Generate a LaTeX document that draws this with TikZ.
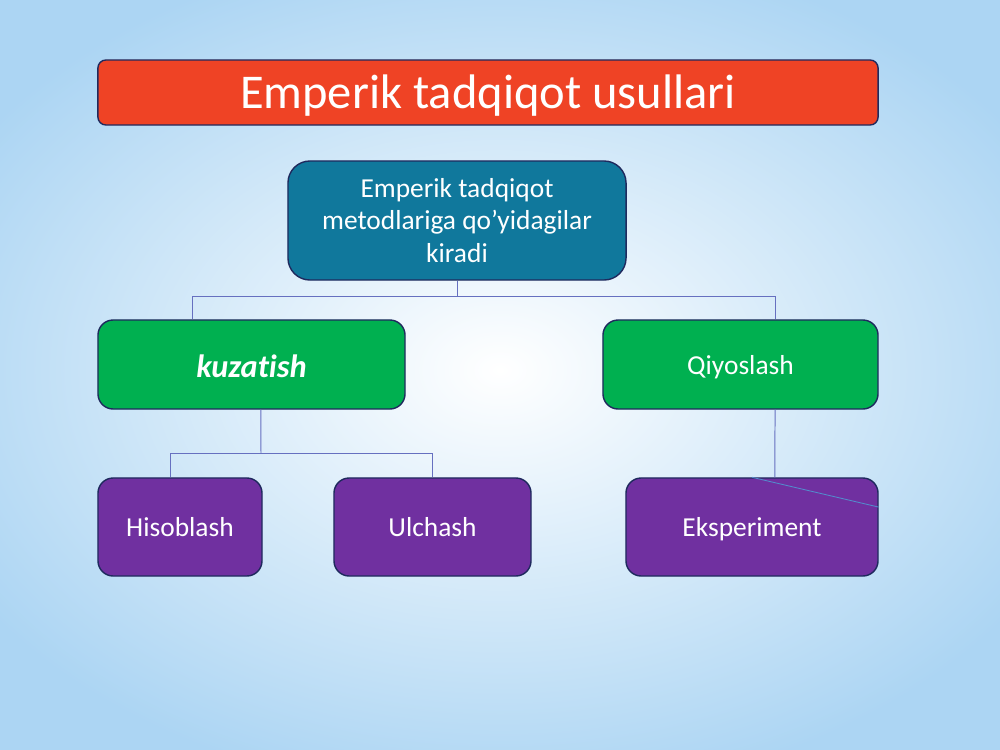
\documentclass[tikz,border=0pt]{standalone}
\usepackage{fontspec}
\setmainfont{Carlito}[Ligatures=NoCommon]
\usetikzlibrary{calc}
\definecolor{bgblue}{HTML}{ACD5F3}
\definecolor{titlered}{HTML}{EF4325}
\definecolor{topblue}{HTML}{10789C}
\definecolor{boxgreen}{HTML}{00B050}
\definecolor{boxpurple}{HTML}{7030A0}
\definecolor{edgenavy}{HTML}{1F2A5E}
\definecolor{linkblue}{HTML}{6670C0}
\newcommand{\boxfont}{\fontsize{19.5}{23}\selectfont}

\begin{document}
\begin{tikzpicture}[x=0.025cm, y=-0.025cm,
        box/.style={draw=edgenavy, line width=1pt, rounded corners=0.38cm, text=white, align=center, font=\boxfont},
        oneline/.style={text height=16pt, text depth=2pt},
        link/.style={draw=linkblue, line width=0.7pt}]
        \useasboundingbox (0,0) rectangle (1000,750);
        % background
        \shade[inner color=white, outer color=bgblue] (-120,-60) rectangle (1120,800);

        % boxes
        \node[box, fill=titlered, rounded corners=0.2cm, minimum width=19.5cm, minimum height=1.625cm, text height=27pt, text depth=4pt, font=\fontsize{34.5}{40}\selectfont] (title) at (488,92.5) {Emperik tadqiqot usullari};
        \node[box, fill=topblue, rounded corners=0.55cm, minimum width=8.45cm, minimum height=2.975cm] (top) at (457,220.5) {Emperik tadqiqot\\metodlariga qo’yidagilar\\kiradi};
        \node[box, oneline, text height=20.5pt, fill=boxgreen, minimum width=7.675cm, minimum height=2.225cm, font=\fontsize{23}{27}\selectfont\bfseries\itshape] (kuz) at (251.5,364.5) {kuzatish};
        \node[box, oneline, fill=boxgreen, minimum width=6.875cm, minimum height=2.225cm] (qiy) at (740.5,364.5) {Qiyoslash};
        \node[box, oneline, fill=boxpurple, minimum width=4.1cm, minimum height=2.45cm] (his) at (180,527) {Hisoblash};
        \node[box, oneline, fill=boxpurple, minimum width=4.925cm, minimum height=2.45cm] (ulc) at (432.5,527) {Ulchash};
        \node[box, oneline, fill=boxpurple, minimum width=6.3cm, minimum height=2.45cm] (eks) at (752,527) {Eksperiment};

        % lines
        \coordinate (busA) at (457,296);
        \coordinate (busB) at (261,453);
        \draw[link] (top.south) -- (busA);
        \draw[link] (busA) -| ($(kuz.north west)!0.31!(kuz.north east)$);
        \draw[link] (busA) -| ($(qiy.north west)!0.625!(qiy.north east)$);
        \draw[link] ($(kuz.south west)!0.53!(kuz.south east)$) -- (busB);
        \draw[link] (busB) -| ($(his.north west)!0.44!(his.north east)$);
        \draw[link] (busB) -| (ulc.north);
        \draw[link] ($(qiy.south west)!0.625!(qiy.south east)$) -- ($(eks.north west)!0.59!(eks.north east)$);
        \draw[draw=linkblue!80!cyan, line width=0.6pt] (eks.north) -- ($(eks.north east)!0.3!(eks.south east)$);
    \end{tikzpicture}
\end{document}
